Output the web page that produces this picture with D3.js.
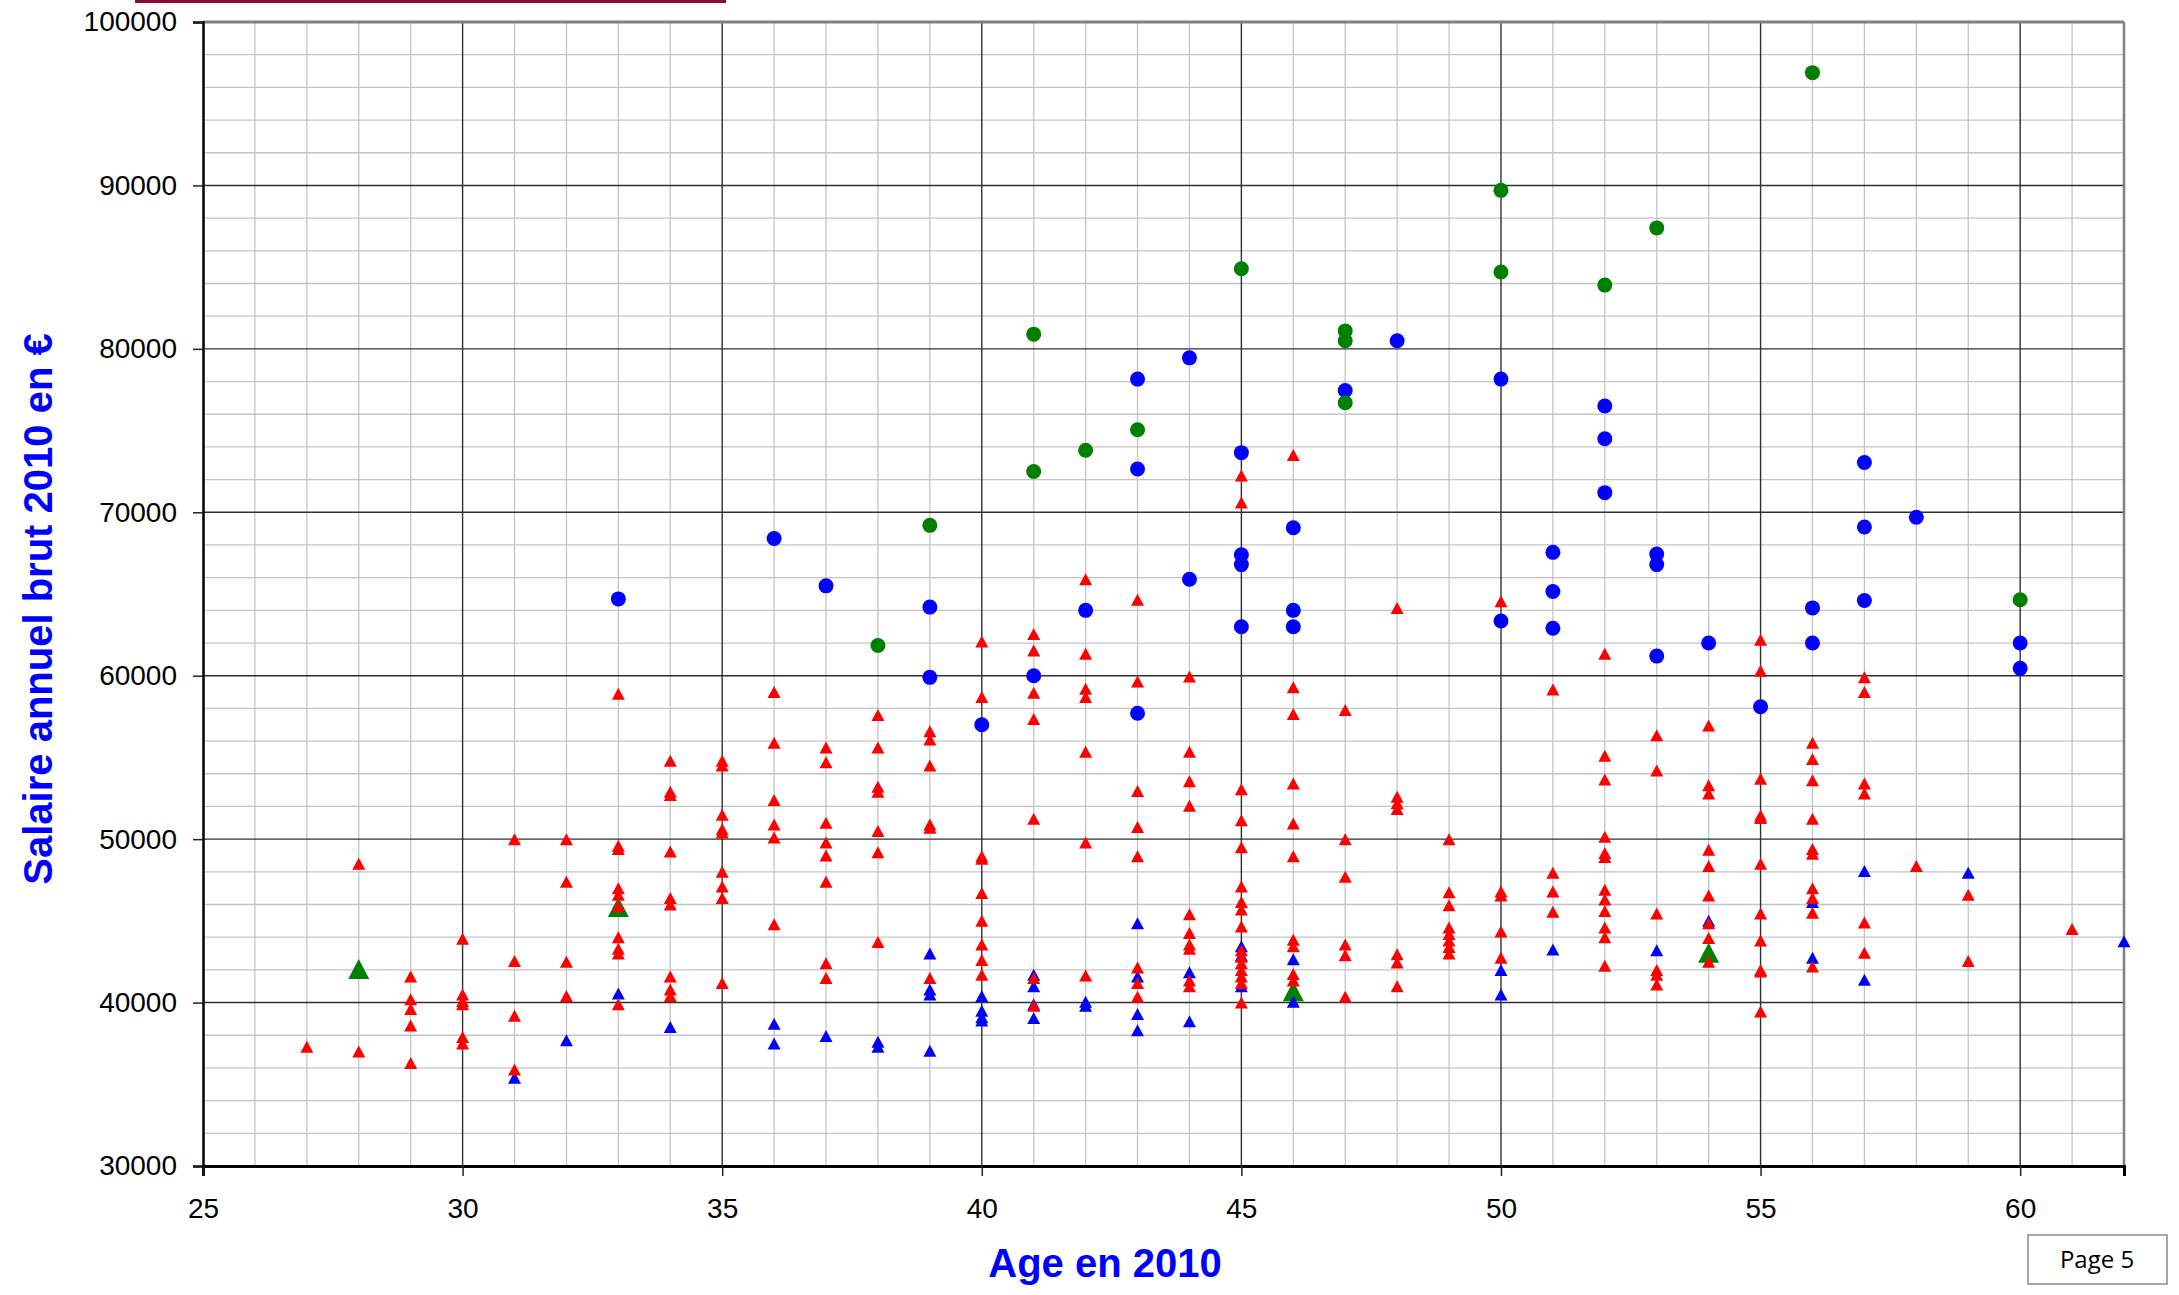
<!DOCTYPE html>
<html>
<head>
<meta charset="utf-8">
<script src="https://cdn.jsdelivr.net/npm/d3@7"></script>
<style>
  html, body { margin: 0; padding: 0; background: #ffffff; }
  svg { display: block; }
</style>
</head>
<body>
<svg id="chart" width="2179" height="1295"></svg>
<script>
// ---------------- DATA ----------------
const xTickValues = [25, 30, 35, 40, 45, 50, 55, 60];
const yTickValues = [30000, 40000, 50000, 60000, 70000, 80000, 90000, 100000];
const xTitle = "Age en 2010";
const yTitle = "Salaire annuel brut 2010 en €";
const pageLabel = "Page 5";

// [age, salary]
const redTriangles = [
  [27,37300],
  [28,48500],[28,37000],
  [29,41600],[29,40200],[29,39600],[29,38600],[29,36300],
  [30,43900],[30,40500],[30,40100],[30,39900],[30,37900],[30,37500],
  [31,50000],[31,42550],[31,39200],[31,35900],
  [32,50000],[32,47400],[32,42500],[32,40400],
  [33,58900],[33,49600],[33,49400],[33,47000],[33,46600],[33,45900],[33,44000],[33,43300],[33,43000],[33,39900],
  [34,54800],[34,52900],[34,52700],[34,49250],[34,46400],[34,46000],[34,41600],[34,40800],[34,40400],
  [35,54800],[35,54500],[35,51500],[35,50600],[35,50400],[35,48000],[35,47100],[35,46400],[35,41200],
  [36,59000],[36,55900],[36,52400],[36,50900],[36,50100],[36,44800],
  [37,55600],[37,54700],[37,51000],[37,49800],[37,49000],[37,47400],[37,42400],[37,41500],
  [38,57600],[38,55600],[38,53200],[38,52900],[38,50500],[38,49200],[38,43700],
  [39,56600],[39,56100],[39,54500],[39,50900],[39,50700],[39,41500],
  [40,62100],[40,58700],[40,48950],[40,48800],[40,46700],[40,45000],[40,43550],[40,42600],[40,41700],
  [41,62550],[41,61550],[41,58950],[41,57350],[41,51250],[41,41500],[41,39800],
  [42,65900],[42,61350],[42,59200],[42,58700],[42,55350],[42,49800],[42,41650],
  [43,64650],[43,59650],[43,52950],[43,50750],[43,48950],[43,42150],[43,41200],[43,40350],
  [44,59950],[44,55350],[44,53550],[44,52050],[44,45400],[44,44250],[44,43550],[44,43300],[44,41350],[44,41000],
  [45,72250],[45,70600],[45,53050],[45,51150],[45,49500],[45,47100],[45,46150],[45,45700],[45,44650],
  [45,43200],[45,42800],[45,42400],[45,42000],[45,41600],[45,41200],[45,40000],
  [46,73500],[46,59300],[46,57650],[46,53400],[46,50950],[46,48950],[46,43850],[46,43450],[46,41750],[46,41350],
  [47,57900],[47,50000],[47,47700],[47,43550],[47,42900],[47,40350],
  [48,64150],[48,52600],[48,52200],[48,51850],[48,42950],[48,42450],[48,41000],
  [49,50000],[49,46750],[49,45950],[49,44600],[49,44200],[49,43800],[49,43400],[49,43000],
  [50,64550],[50,46800],[50,46550],[50,44350],[50,42750],
  [51,59150],[51,47950],[51,46800],[51,45550],
  [52,61350],[52,55100],[52,53650],[52,50150],[52,49150],[52,48900],[52,46900],[52,46300],[52,45600],[52,44600],[52,44000],[52,42250],
  [53,56350],[53,54200],[53,45450],[53,42000],[53,41700],[53,41100],
  [54,56950],[54,53300],[54,52800],[54,49350],[54,48350],[54,46550],[54,44850],[54,43950],[54,42500],
  [55,62200],[55,60300],[55,53700],[55,51450],[55,51300],[55,48500],[55,45450],[55,43800],[55,42000],[55,41900],[55,39450],
  [56,55900],[56,54900],[56,53600],[56,51250],[56,49400],[56,49100],[56,47000],[56,46400],[56,45500],[56,42200],
  [57,59900],[57,59000],[57,53400],[57,52800],[57,44900],[57,43050],
  [58,48350],
  [59,46600],[59,42550],
  [61,44500]
];

const blueTriangles = [
  [31,35400],[32,37700],[33,40550],[34,38500],
  [36,38700],[36,37500],[37,37950],[38,37600],[38,37300],
  [39,43000],[39,40800],[39,40500],[39,37050],
  [40,40400],[40,39500],[40,39100],[40,38900],
  [41,41700],[41,41000],[41,39900],[41,39050],
  [42,40050],[42,39800],
  [43,44850],[43,41600],[43,39300],[43,38300],
  [44,41850],[44,38850],
  [45,43450],[45,42900],[45,41000],
  [46,42650],[46,40050],
  [50,42000],[50,40500],
  [51,43250],[53,43200],[54,45000],
  [56,46150],[56,42750],
  [57,48050],[57,41400],
  [59,47950],[62,43750]
];

const greenTriangles = [[28,42050],[33,45850],[46,40700],[54,43050]];

const blueCircles = [
  [33,64700],[36,68400],[37,65500],[39,64200],[39,59900],[40,57000],[41,60000],[42,64000],
  [43,78150],[43,72650],[43,57700],[44,79450],[44,65900],
  [45,73650],[45,67400],[45,66800],[45,63000],
  [46,69050],[46,64000],[46,63000],
  [47,77450],[48,80500],[50,78150],[50,63350],
  [51,67550],[51,65150],[51,62900],
  [52,76500],[52,74500],[52,71200],
  [53,67450],[53,66800],[53,61200],
  [54,62000],[55,58100],[56,64150],[56,62000],
  [57,73050],[57,69100],[57,64600],[58,69700],[60,62000],[60,60450]
];

const greenCircles = [
  [38,61850],[39,69200],[41,80900],[41,72500],[42,73800],[43,75050],[45,84900],
  [47,81100],[47,80500],[47,76700],[50,89700],[50,84700],[52,83900],[53,87400],[56,96900],[60,64650]
];

// ---------------- LAYOUT ----------------
const svg = d3.select("#chart");
const X0 = 203, X1 = 2124, Y0 = 1166, Y1 = 22;
const x = d3.scaleLinear().domain([25, 62]).range([X0, X1]);
const y = d3.scaleLinear().domain([30000, 100000]).range([Y0, Y1]);
const FONT = "'Liberation Sans', Arial, Helvetica, sans-serif";

svg.append("rect").attr("width", 2179).attr("height", 1295).attr("fill", "#ffffff");

// top decorative header line
svg.append("rect").attr("x", 135).attr("y", 0).attr("width", 591).attr("height", 3).attr("fill", "#8c0a35");

// minor grid
const g = svg.append("g");
const minorX = d3.range(26, 62).filter(v => v % 5 !== 0);
const minorY = d3.range(32000, 100000, 2000).filter(v => v % 10000 !== 0);
g.selectAll("line.mx").data(minorX).join("line")
  .attr("x1", d => x(d)).attr("x2", d => x(d)).attr("y1", Y1).attr("y2", Y0)
  .attr("stroke", "#c4c4c4").attr("stroke-width", 1.3);
g.selectAll("line.my").data(minorY).join("line")
  .attr("x1", X0).attr("x2", X1).attr("y1", d => y(d)).attr("y2", d => y(d))
  .attr("stroke", "#c4c4c4").attr("stroke-width", 1.3);

// major grid
const majorX = xTickValues.filter(v => v > 25);
const majorY = yTickValues.filter(v => v > 30000 && v < 100000);
g.selectAll("line.Mx").data(majorX).join("line")
  .attr("x1", d => x(d)).attr("x2", d => x(d)).attr("y1", Y1).attr("y2", Y0)
  .attr("stroke", "#303030").attr("stroke-width", 1.4);
g.selectAll("line.My").data(majorY).join("line")
  .attr("x1", X0).attr("x2", X1).attr("y1", d => y(d)).attr("y2", d => y(d))
  .attr("stroke", "#303030").attr("stroke-width", 1.4);

// frame
svg.append("line").attr("x1", X0).attr("x2", X1).attr("y1", Y1).attr("y2", Y1).attr("stroke", "#808080").attr("stroke-width", 3);
svg.append("line").attr("x1", X1).attr("x2", X1).attr("y1", Y1).attr("y2", Y0).attr("stroke", "#808080").attr("stroke-width", 2.5);

// axes
const yAxis = d3.axisLeft(y).tickValues(yTickValues).tickFormat(d3.format("d")).tickSize(10).tickPadding(16);
const xAxis = d3.axisBottom(x).tickValues(xTickValues).tickFormat(d3.format("d")).tickSize(10).tickPadding(22);
const gy = svg.append("g").attr("transform", `translate(${X0},0)`).call(yAxis);
const gx = svg.append("g").attr("transform", `translate(0,${Y0})`).call(xAxis);
[gx, gy].forEach(a => {
  a.select(".domain").attr("stroke", "#000").attr("stroke-width", 3);
  a.selectAll(".tick line").attr("stroke", "#222").attr("stroke-width", 1.5);
  a.selectAll(".tick text").attr("fill", "#000").style("font-family", FONT).style("font-size", "28px");
});
gy.select(".domain").attr("stroke-width", 2.5);

// markers
function tri(w, h) { return `M0,${-h/2}L${w/2},${h/2}L${-w/2},${h/2}Z`; }
const marks = svg.append("g");
function drawTri(data, w, h, color) {
  marks.append("g").selectAll("path").data(data).join("path")
    .attr("d", tri(w, h))
    .attr("transform", d => `translate(${x(d[0])},${y(d[1])})`)
    .attr("fill", color);
}
function drawCircle(data, r, color) {
  marks.append("g").selectAll("circle").data(data).join("circle")
    .attr("cx", d => x(d[0])).attr("cy", d => y(d[1])).attr("r", r)
    .attr("fill", color);
}
drawTri(greenTriangles, 21, 20, "#008000");
drawTri(blueTriangles, 13, 12, "#0000ff");
drawTri(redTriangles, 13, 12, "#ff0000");
drawCircle(blueCircles, 7.5, "#0000ff");
drawCircle(greenCircles, 7.5, "#008000");

// titles
svg.append("text").attr("x", 1105).attr("y", 1277).attr("text-anchor", "middle")
  .style("font-family", FONT).style("font-size", "40px").style("font-weight", "bold")
  .attr("fill", "#0000ff").text(xTitle);
svg.append("text").attr("transform", "translate(52,609) rotate(-90)").attr("text-anchor", "middle")
  .style("font-family", FONT).style("font-size", "40px").style("font-weight", "bold")
  .attr("fill", "#0000ff").text(yTitle);

// page box
svg.append("rect").attr("x", 2028).attr("y", 1235).attr("width", 139).attr("height", 49)
  .attr("fill", "#fff").attr("stroke", "#a6a6a6").attr("stroke-width", 2);
svg.append("text").attr("x", 2097).attr("y", 1268).attr("text-anchor", "middle")
  .style("font-family", "'Open Sans', 'Noto Sans', sans-serif").style("font-size", "24px")
  .attr("fill", "#000").text(pageLabel);
</script>
</body>
</html>
